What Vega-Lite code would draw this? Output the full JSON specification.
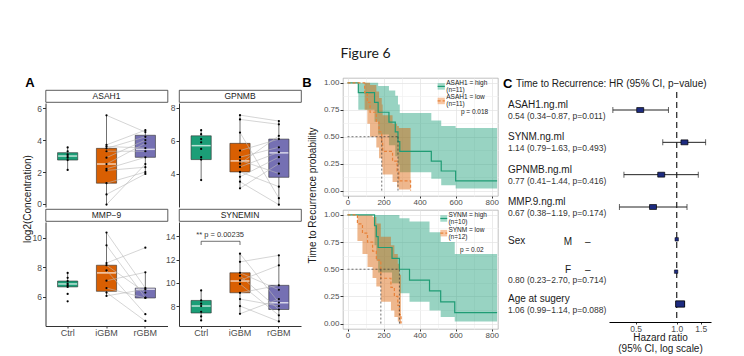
{
"$schema":"https://vega.github.io/schema/vega-lite/v6.json",
"padding":{"left":20,"top":46,"right":5,"bottom":0},
"title":{"text":"Figure 6","font":"Lato","fontSize":14,"fontWeight":"normal","color":"#1a1a1a","anchor":"middle","offset":16},
"config":{
 "view":{"stroke":null},
 "font":"Liberation Sans",
 "axis":{"labelColor":"#4d4d4d","tickColor":"#333333","domainColor":"#333333","labelFontSize":8.5,"tickSize":3,"labelPadding":1,"grid":false,"titleFontWeight":"normal","titleColor":"#1a1a1a","titleFontSize":10,"labelOverlap":false},
 "text":{"color":"#1a1a1a"}
},
"datasets":{
 "one":[{"k":1}],
 "boxes":[
  {"p":"ASAH1","g":"Ctrl","lo":2.13,"q1":2.75,"med":3.0,"q3":3.21,"hi":3.54},
  {"p":"ASAH1","g":"iGBM","lo":-0.04,"q1":1.3,"med":2.5,"q3":3.48,"hi":5.55},
  {"p":"ASAH1","g":"rGBM","lo":1.88,"q1":2.92,"med":3.42,"q3":4.3,"hi":4.62},
  {"p":"GPNMB","g":"Ctrl","lo":3.6,"q1":4.85,"med":5.7,"q3":6.3,"hi":6.64},
  {"p":"GPNMB","g":"iGBM","lo":3.1,"q1":4.1,"med":4.77,"q3":5.84,"hi":7.56},
  {"p":"GPNMB","g":"rGBM","lo":2.1,"q1":3.77,"med":5.26,"q3":6.1,"hi":7.2},
  {"p":"MMP-9","g":"Ctrl","lo":6.68,"q1":6.68,"med":6.88,"q3":7.08,"hi":7.63},
  {"p":"MMP-9","g":"iGBM","lo":6.07,"q1":6.38,"med":7.63,"q3":8.15,"hi":10.36},
  {"p":"MMP-9","g":"rGBM","lo":5.93,"q1":5.93,"med":6.52,"q3":6.6,"hi":7.67},
  {"p":"SYNEMIN","g":"Ctrl","lo":6.76,"q1":7.4,"med":8.0,"q3":8.48,"hi":9.34},
  {"p":"SYNEMIN","g":"iGBM","lo":7.33,"q1":9.14,"med":10.15,"q3":10.86,"hi":12.5},
  {"p":"SYNEMIN","g":"rGBM","lo":6.67,"q1":7.7,"med":8.28,"q3":9.78,"hi":12.36}
 ],
 "pts":[
  {"p":"ASAH1","g":"Ctrl","id":0,"v":3.54},{"p":"ASAH1","g":"Ctrl","id":0,"v":3.3},{"p":"ASAH1","g":"Ctrl","id":0,"v":3.1},{"p":"ASAH1","g":"Ctrl","id":0,"v":3.0},{"p":"ASAH1","g":"Ctrl","id":0,"v":2.9},{"p":"ASAH1","g":"Ctrl","id":0,"v":2.75},{"p":"ASAH1","g":"Ctrl","id":0,"v":2.13},
  {"p":"ASAH1","g":"iGBM","id":1,"v":5.55},{"p":"ASAH1","g":"rGBM","id":1,"v":4.5},
  {"p":"ASAH1","g":"iGBM","id":2,"v":3.7},{"p":"ASAH1","g":"rGBM","id":2,"v":4.62},
  {"p":"ASAH1","g":"iGBM","id":3,"v":3.6},{"p":"ASAH1","g":"rGBM","id":3,"v":3.5},
  {"p":"ASAH1","g":"iGBM","id":4,"v":3.48},{"p":"ASAH1","g":"rGBM","id":4,"v":4.2},
  {"p":"ASAH1","g":"iGBM","id":5,"v":3.3},{"p":"ASAH1","g":"rGBM","id":5,"v":3.3},
  {"p":"ASAH1","g":"iGBM","id":6,"v":2.9},{"p":"ASAH1","g":"rGBM","id":6,"v":4.0},
  {"p":"ASAH1","g":"iGBM","id":7,"v":2.5},{"p":"ASAH1","g":"rGBM","id":7,"v":3.8},
  {"p":"ASAH1","g":"iGBM","id":8,"v":2.2},{"p":"ASAH1","g":"rGBM","id":8,"v":2.92},
  {"p":"ASAH1","g":"iGBM","id":9,"v":2.1},{"p":"ASAH1","g":"rGBM","id":9,"v":2.3},
  {"p":"ASAH1","g":"iGBM","id":10,"v":1.3},{"p":"ASAH1","g":"rGBM","id":10,"v":2.0},
  {"p":"ASAH1","g":"iGBM","id":11,"v":0.6},{"p":"ASAH1","g":"rGBM","id":11,"v":1.88},
  {"p":"ASAH1","g":"iGBM","id":12,"v":-0.04},{"p":"ASAH1","g":"rGBM","id":12,"v":2.5},
  {"p":"GPNMB","g":"Ctrl","id":0,"v":6.64},{"p":"GPNMB","g":"Ctrl","id":0,"v":6.4},{"p":"GPNMB","g":"Ctrl","id":0,"v":6.1},{"p":"GPNMB","g":"Ctrl","id":0,"v":5.9},{"p":"GPNMB","g":"Ctrl","id":0,"v":5.5},{"p":"GPNMB","g":"Ctrl","id":0,"v":5.0},{"p":"GPNMB","g":"Ctrl","id":0,"v":4.85},{"p":"GPNMB","g":"Ctrl","id":0,"v":3.6},
  {"p":"GPNMB","g":"iGBM","id":1,"v":7.56},{"p":"GPNMB","g":"rGBM","id":1,"v":7.2},
  {"p":"GPNMB","g":"iGBM","id":2,"v":7.3},{"p":"GPNMB","g":"rGBM","id":2,"v":7.0},
  {"p":"GPNMB","g":"iGBM","id":3,"v":6.5},{"p":"GPNMB","g":"rGBM","id":3,"v":2.5},
  {"p":"GPNMB","g":"iGBM","id":4,"v":5.4},{"p":"GPNMB","g":"rGBM","id":4,"v":6.1},
  {"p":"GPNMB","g":"iGBM","id":5,"v":5.0},{"p":"GPNMB","g":"rGBM","id":5,"v":5.6},
  {"p":"GPNMB","g":"iGBM","id":6,"v":4.8},{"p":"GPNMB","g":"rGBM","id":6,"v":4.0},
  {"p":"GPNMB","g":"iGBM","id":7,"v":4.6},{"p":"GPNMB","g":"rGBM","id":7,"v":6.3},
  {"p":"GPNMB","g":"iGBM","id":8,"v":4.4},{"p":"GPNMB","g":"rGBM","id":8,"v":5.3},
  {"p":"GPNMB","g":"iGBM","id":9,"v":4.1},{"p":"GPNMB","g":"rGBM","id":9,"v":3.2},
  {"p":"GPNMB","g":"iGBM","id":10,"v":3.8},{"p":"GPNMB","g":"rGBM","id":10,"v":5.0},
  {"p":"GPNMB","g":"iGBM","id":11,"v":3.5},{"p":"GPNMB","g":"rGBM","id":11,"v":2.1},
  {"p":"GPNMB","g":"iGBM","id":12,"v":3.1},{"p":"GPNMB","g":"rGBM","id":12,"v":4.6},
  {"p":"MMP-9","g":"Ctrl","id":0,"v":7.63},{"p":"MMP-9","g":"Ctrl","id":0,"v":7.3},{"p":"MMP-9","g":"Ctrl","id":0,"v":7.08},{"p":"MMP-9","g":"Ctrl","id":0,"v":6.9},{"p":"MMP-9","g":"Ctrl","id":0,"v":6.8},{"p":"MMP-9","g":"Ctrl","id":0,"v":6.68},{"p":"MMP-9","g":"Ctrl","id":0,"v":6.2},{"p":"MMP-9","g":"Ctrl","id":0,"v":5.7},
  {"p":"MMP-9","g":"iGBM","id":1,"v":10.36},{"p":"MMP-9","g":"rGBM","id":1,"v":6.6},
  {"p":"MMP-9","g":"iGBM","id":2,"v":9.5},{"p":"MMP-9","g":"rGBM","id":2,"v":5.95},
  {"p":"MMP-9","g":"iGBM","id":3,"v":8.3},{"p":"MMP-9","g":"rGBM","id":3,"v":9.34},
  {"p":"MMP-9","g":"iGBM","id":4,"v":8.15},{"p":"MMP-9","g":"rGBM","id":4,"v":6.3},
  {"p":"MMP-9","g":"iGBM","id":5,"v":7.8},{"p":"MMP-9","g":"rGBM","id":5,"v":4.83},
  {"p":"MMP-9","g":"iGBM","id":6,"v":7.1},{"p":"MMP-9","g":"rGBM","id":6,"v":7.67},
  {"p":"MMP-9","g":"iGBM","id":7,"v":6.6},{"p":"MMP-9","g":"rGBM","id":7,"v":5.93},
  {"p":"MMP-9","g":"iGBM","id":8,"v":6.3},{"p":"MMP-9","g":"rGBM","id":8,"v":4.37},
  {"p":"MMP-9","g":"iGBM","id":9,"v":6.07},{"p":"MMP-9","g":"rGBM","id":9,"v":6.52},
  {"p":"SYNEMIN","g":"Ctrl","id":0,"v":9.34},{"p":"SYNEMIN","g":"Ctrl","id":0,"v":8.48},{"p":"SYNEMIN","g":"Ctrl","id":0,"v":8.2},{"p":"SYNEMIN","g":"Ctrl","id":0,"v":8.0},{"p":"SYNEMIN","g":"Ctrl","id":0,"v":7.5},{"p":"SYNEMIN","g":"Ctrl","id":0,"v":7.1},{"p":"SYNEMIN","g":"Ctrl","id":0,"v":6.76},
  {"p":"SYNEMIN","g":"iGBM","id":1,"v":12.5},{"p":"SYNEMIN","g":"rGBM","id":1,"v":8.3},
  {"p":"SYNEMIN","g":"iGBM","id":2,"v":11.8},{"p":"SYNEMIN","g":"rGBM","id":2,"v":12.36},
  {"p":"SYNEMIN","g":"iGBM","id":3,"v":10.86},{"p":"SYNEMIN","g":"rGBM","id":3,"v":9.4},
  {"p":"SYNEMIN","g":"iGBM","id":4,"v":10.6},{"p":"SYNEMIN","g":"rGBM","id":4,"v":7.7},
  {"p":"SYNEMIN","g":"iGBM","id":5,"v":10.2},{"p":"SYNEMIN","g":"rGBM","id":5,"v":11.5},
  {"p":"SYNEMIN","g":"iGBM","id":6,"v":9.9},{"p":"SYNEMIN","g":"rGBM","id":6,"v":7.2},
  {"p":"SYNEMIN","g":"iGBM","id":7,"v":9.14},{"p":"SYNEMIN","g":"rGBM","id":7,"v":9.78},
  {"p":"SYNEMIN","g":"iGBM","id":8,"v":8.6},{"p":"SYNEMIN","g":"rGBM","id":8,"v":8.0},
  {"p":"SYNEMIN","g":"iGBM","id":9,"v":8.0},{"p":"SYNEMIN","g":"rGBM","id":9,"v":6.67},
  {"p":"SYNEMIN","g":"iGBM","id":10,"v":7.33},{"p":"SYNEMIN","g":"rGBM","id":10,"v":8.6}
 ],
 "kmline":[
  {"p":"ASAH1","g":"high","t":0,"s":1},{"p":"ASAH1","g":"high","t":60,"s":0.909},{"p":"ASAH1","g":"high","t":150,"s":0.818},{"p":"ASAH1","g":"high","t":170,"s":0.727},{"p":"ASAH1","g":"high","t":230,"s":0.636},{"p":"ASAH1","g":"high","t":265,"s":0.545},{"p":"ASAH1","g":"high","t":280,"s":0.455},{"p":"ASAH1","g":"high","t":290,"s":0.364},{"p":"ASAH1","g":"high","t":465,"s":0.273},{"p":"ASAH1","g":"high","t":520,"s":0.182},{"p":"ASAH1","g":"high","t":600,"s":0.091},{"p":"ASAH1","g":"high","t":830,"s":0.091},
  {"p":"ASAH1","g":"low","t":0,"s":1},{"p":"ASAH1","g":"low","t":95,"s":0.909},{"p":"ASAH1","g":"low","t":110,"s":0.818},{"p":"ASAH1","g":"low","t":125,"s":0.727},{"p":"ASAH1","g":"low","t":160,"s":0.636},{"p":"ASAH1","g":"low","t":175,"s":0.545},{"p":"ASAH1","g":"low","t":190,"s":0.455},{"p":"ASAH1","g":"low","t":195,"s":0.364},{"p":"ASAH1","g":"low","t":250,"s":0.273},{"p":"ASAH1","g":"low","t":275,"s":0.182},{"p":"ASAH1","g":"low","t":285,"s":0.091},{"p":"ASAH1","g":"low","t":350,"s":0},
  {"p":"SYNM","g":"high","t":0,"s":1},{"p":"SYNM","g":"high","t":150,"s":0.9},{"p":"SYNM","g":"high","t":160,"s":0.8},{"p":"SYNM","g":"high","t":170,"s":0.7},{"p":"SYNM","g":"high","t":247,"s":0.6},{"p":"SYNM","g":"high","t":288,"s":0.5},{"p":"SYNM","g":"high","t":344,"s":0.4},{"p":"SYNM","g":"high","t":455,"s":0.3},{"p":"SYNM","g":"high","t":517,"s":0.2},{"p":"SYNM","g":"high","t":595,"s":0.1},{"p":"SYNM","g":"high","t":830,"s":0.1},
  {"p":"SYNM","g":"low","t":0,"s":1},{"p":"SYNM","g":"low","t":55,"s":0.917},{"p":"SYNM","g":"low","t":83,"s":0.833},{"p":"SYNM","g":"low","t":111,"s":0.75},{"p":"SYNM","g":"low","t":139,"s":0.667},{"p":"SYNM","g":"low","t":160,"s":0.583},{"p":"SYNM","g":"low","t":185,"s":0.417},{"p":"SYNM","g":"low","t":241,"s":0.333},{"p":"SYNM","g":"low","t":260,"s":0.25},{"p":"SYNM","g":"low","t":279,"s":0.167},{"p":"SYNM","g":"low","t":288,"s":0.083},{"p":"SYNM","g":"low","t":297,"s":0}
 ],
 "kmband":[
  {"p":"ASAH1","g":"high","t":0,"lo":1,"hi":1},{"p":"ASAH1","g":"high","t":60,"lo":0.75,"hi":1},{"p":"ASAH1","g":"high","t":150,"lo":0.64,"hi":1},{"p":"ASAH1","g":"high","t":170,"lo":0.52,"hi":0.97},{"p":"ASAH1","g":"high","t":230,"lo":0.42,"hi":0.93},{"p":"ASAH1","g":"high","t":265,"lo":0.32,"hi":0.88},{"p":"ASAH1","g":"high","t":280,"lo":0.24,"hi":0.8},{"p":"ASAH1","g":"high","t":290,"lo":0.17,"hi":0.72},{"p":"ASAH1","g":"high","t":465,"lo":0.11,"hi":0.65},{"p":"ASAH1","g":"high","t":520,"lo":0.05,"hi":0.6},{"p":"ASAH1","g":"high","t":600,"lo":0.02,"hi":0.58},{"p":"ASAH1","g":"high","t":830,"lo":0.02,"hi":0.58},
  {"p":"ASAH1","g":"low","t":0,"lo":1,"hi":1},{"p":"ASAH1","g":"low","t":95,"lo":0.75,"hi":1},{"p":"ASAH1","g":"low","t":110,"lo":0.62,"hi":1},{"p":"ASAH1","g":"low","t":125,"lo":0.5,"hi":0.98},{"p":"ASAH1","g":"low","t":160,"lo":0.4,"hi":0.92},{"p":"ASAH1","g":"low","t":175,"lo":0.3,"hi":0.86},{"p":"ASAH1","g":"low","t":190,"lo":0.22,"hi":0.8},{"p":"ASAH1","g":"low","t":195,"lo":0.15,"hi":0.7},{"p":"ASAH1","g":"low","t":250,"lo":0.08,"hi":0.62},{"p":"ASAH1","g":"low","t":275,"lo":0.03,"hi":0.6},{"p":"ASAH1","g":"low","t":285,"lo":0.01,"hi":0.58},{"p":"ASAH1","g":"low","t":350,"lo":0,"hi":0.58},
  {"p":"SYNM","g":"high","t":0,"lo":1,"hi":1},{"p":"SYNM","g":"high","t":150,"lo":0.72,"hi":1},{"p":"SYNM","g":"high","t":160,"lo":0.58,"hi":1},{"p":"SYNM","g":"high","t":170,"lo":0.47,"hi":1},{"p":"SYNM","g":"high","t":247,"lo":0.37,"hi":1},{"p":"SYNM","g":"high","t":288,"lo":0.28,"hi":0.97},{"p":"SYNM","g":"high","t":344,"lo":0.2,"hi":0.94},{"p":"SYNM","g":"high","t":455,"lo":0.12,"hi":0.84},{"p":"SYNM","g":"high","t":517,"lo":0.06,"hi":0.75},{"p":"SYNM","g":"high","t":595,"lo":0.02,"hi":0.64},{"p":"SYNM","g":"high","t":830,"lo":0.02,"hi":0.64},
  {"p":"SYNM","g":"low","t":0,"lo":1,"hi":1},{"p":"SYNM","g":"low","t":55,"lo":0.76,"hi":1},{"p":"SYNM","g":"low","t":83,"lo":0.64,"hi":1},{"p":"SYNM","g":"low","t":111,"lo":0.52,"hi":1},{"p":"SYNM","g":"low","t":139,"lo":0.42,"hi":0.98},{"p":"SYNM","g":"low","t":160,"lo":0.34,"hi":0.92},{"p":"SYNM","g":"low","t":185,"lo":0.2,"hi":0.8},{"p":"SYNM","g":"low","t":241,"lo":0.12,"hi":0.72},{"p":"SYNM","g":"low","t":260,"lo":0.06,"hi":0.64},{"p":"SYNM","g":"low","t":279,"lo":0.02,"hi":0.55},{"p":"SYNM","g":"low","t":288,"lo":0,"hi":0.45},{"p":"SYNM","g":"low","t":297,"lo":0,"hi":0.45}
 ],
 "forest":[
  {"var":"ASAH1","name":"ASAH1.ng.ml","lev":"","hr":0.54,"lo":0.34,"hi":0.87,"txt":"0.54 (0.34−0.87, p=0.011)"},
  {"var":"SYNM","name":"SYNM.ng.ml","lev":"","hr":1.14,"lo":0.79,"hi":1.63,"txt":"1.14 (0.79−1.63, p=0.493)"},
  {"var":"GPNMB","name":"GPNMB.ng.ml","lev":"","hr":0.77,"lo":0.41,"hi":1.44,"txt":"0.77 (0.41−1.44, p=0.416)"},
  {"var":"MMP9","name":"MMP.9.ng.ml","lev":"","hr":0.67,"lo":0.38,"hi":1.19,"txt":"0.67 (0.38−1.19, p=0.174)"},
  {"var":"SexM","name":"Sex","lev":"M","hr":1.0,"txt":""},
  {"var":"SexF","name":"","lev":"F","hr":0.99,"txt":"0.80 (0.23−2.70, p=0.714)"},
  {"var":"Age","name":"Age at sugery","lev":"","hr":1.06,"lo":0.99,"hi":1.14,"txt":"1.06 (0.99−1.14, p=0.088)"}
 ]
},
"hconcat":[
 {"hconcat":[
  {"vconcat":[
   {"width":279,"height":12,"data":{"name":"one"},"mark":{"type":"text","align":"center","baseline":"bottom","fontSize":13,"fontWeight":"bold","color":"#000000"},"encoding":{"x":{"datum":0.036,"type":"quantitative","scale":{"domain":[0,1]},"axis":null},"y":{"datum":0,"type":"quantitative","scale":{"domain":[0,1]},"axis":null},"text":{"value":"A"}}},
   {"hconcat":[
    {"width":15,"height":235,"data":{"name":"one"},"mark":{"type":"text","angle":270,"align":"center","baseline":"middle","fontSize":10},"encoding":{"x":{"datum":0.55,"type":"quantitative","scale":{"domain":[0,1]},"axis":null},"y":{"datum":0.536,"type":"quantitative","scale":{"domain":[0,1]},"axis":null},"text":{"value":"log2(Concentration)"}}},
    {"concat":[
     {"vconcat":[
      {"width":122,"height":12,"view":{"stroke":"#333333","strokeWidth":0.8,"fill":"#ffffff"},"data":{"name":"one"},"mark":{"type":"text","fontSize":8.5,"baseline":"middle"},"encoding":{"text":{"value":"ASAH1"}}},
      {"width":122,"height":104,
       "encoding":{"x":{"field":"g","type":"nominal","scale":{"domain":["Ctrl","iGBM","rGBM"],"paddingInner":0,"paddingOuter":0.07},"axis":null}},
       "layer":[
        {"data":{"name":"boxes"},"transform":[{"filter":"datum.p === 'ASAH1'"}],"mark":{"type":"rule","color":"#333333","strokeWidth":0.7},"encoding":{"y":{"field":"lo","type":"quantitative","title":null,"scale":{"domain":[-0.19,6.32],"nice":false,"zero":false},"axis":{"values":[0,2,4,6],"tickCount":20,"format":"d","labelOverlap":false,"title":null,"labelExpr":"datum.value < 10 ? '\u2007' + datum.label : datum.label"}},"y2":{"field":"hi"}}},
        {"data":{"name":"boxes"},"transform":[{"filter":"datum.p === 'ASAH1'"}],"mark":{"type":"bar","width":{"band":0.52},"stroke":"#333333","strokeWidth":0.6},"encoding":{"y":{"field":"q1","type":"quantitative","title":null},"y2":{"field":"q3"},"fill":{"field":"g","type":"nominal","scale":{"domain":["Ctrl","iGBM","rGBM"],"range":["#1b9e77","#d95f02","#7570b3"]},"legend":null}}},
        {"data":{"name":"boxes"},"transform":[{"filter":"datum.p === 'ASAH1'"}],"mark":{"type":"tick","color":"#ffffff","thickness":1.5,"size":19},"encoding":{"y":{"field":"med","type":"quantitative","title":null}}},
        {"data":{"name":"pts"},"transform":[{"filter":"datum.p === 'ASAH1' && datum.g !== 'Ctrl'"}],"mark":{"type":"line","color":"#b8b8b8","strokeWidth":0.6},"encoding":{"y":{"field":"v","type":"quantitative","title":null},"detail":{"field":"id","type":"nominal"}}},
        {"data":{"name":"pts"},"transform":[{"filter":"datum.p === 'ASAH1'"}],"mark":{"type":"point","filled":true,"color":"#000000","size":5,"opacity":1},"encoding":{"y":{"field":"v","type":"quantitative","title":null}}}
       ]}
     ],"spacing":0},
     {"vconcat":[
      {"width":122,"height":12,"view":{"stroke":"#333333","strokeWidth":0.8,"fill":"#ffffff"},"data":{"name":"one"},"mark":{"type":"text","fontSize":8.5,"baseline":"middle"},"encoding":{"text":{"value":"GPNMB"}}},
      {"width":122,"height":104,
       "encoding":{"x":{"field":"g","type":"nominal","scale":{"domain":["Ctrl","iGBM","rGBM"],"paddingInner":0,"paddingOuter":0.07},"axis":null}},
       "layer":[
        {"data":{"name":"boxes"},"transform":[{"filter":"datum.p === 'GPNMB'"}],"mark":{"type":"rule","color":"#333333","strokeWidth":0.7},"encoding":{"y":{"field":"lo","type":"quantitative","title":null,"scale":{"domain":[1.96,8.3],"nice":false,"zero":false},"axis":{"values":[4,6,8],"tickCount":20,"format":"d","labelOverlap":false,"title":null,"labelExpr":"datum.value < 10 ? '\u2007' + datum.label : datum.label"}},"y2":{"field":"hi"}}},
        {"data":{"name":"boxes"},"transform":[{"filter":"datum.p === 'GPNMB'"}],"mark":{"type":"bar","width":{"band":0.52},"stroke":"#333333","strokeWidth":0.6},"encoding":{"y":{"field":"q1","type":"quantitative","title":null},"y2":{"field":"q3"},"fill":{"field":"g","type":"nominal","scale":{"domain":["Ctrl","iGBM","rGBM"],"range":["#1b9e77","#d95f02","#7570b3"]},"legend":null}}},
        {"data":{"name":"boxes"},"transform":[{"filter":"datum.p === 'GPNMB'"}],"mark":{"type":"tick","color":"#ffffff","thickness":1.5,"size":19},"encoding":{"y":{"field":"med","type":"quantitative","title":null}}},
        {"data":{"name":"pts"},"transform":[{"filter":"datum.p === 'GPNMB' && datum.g !== 'Ctrl'"}],"mark":{"type":"line","color":"#b8b8b8","strokeWidth":0.6},"encoding":{"y":{"field":"v","type":"quantitative","title":null},"detail":{"field":"id","type":"nominal"}}},
        {"data":{"name":"pts"},"transform":[{"filter":"datum.p === 'GPNMB'"}],"mark":{"type":"point","filled":true,"color":"#000000","size":5,"opacity":1},"encoding":{"y":{"field":"v","type":"quantitative","title":null}}}
       ]}
     ],"spacing":0},
     {"vconcat":[
      {"width":122,"height":12,"view":{"stroke":"#333333","strokeWidth":0.8,"fill":"#ffffff"},"data":{"name":"one"},"mark":{"type":"text","fontSize":8.5,"baseline":"middle"},"encoding":{"text":{"value":"MMP−9"}}},
      {"width":122,"height":104,
       "encoding":{"x":{"field":"g","type":"nominal","scale":{"domain":["Ctrl","iGBM","rGBM"],"paddingInner":0,"paddingOuter":0.07},"axis":{"title":null,"labelFontSize":9,"labelAngle":0,"tickSize":2,"labelPadding":0}}},
       "layer":[
        {"data":{"name":"boxes"},"transform":[{"filter":"datum.p === 'MMP-9'"}],"mark":{"type":"rule","color":"#333333","strokeWidth":0.7},"encoding":{"y":{"field":"lo","type":"quantitative","title":null,"scale":{"domain":[4.03,11.08],"nice":false,"zero":false},"axis":{"values":[6,8,10],"tickCount":20,"format":"d","labelOverlap":false,"title":null,"labelExpr":"datum.value < 10 ? '\u2007' + datum.label : datum.label"}},"y2":{"field":"hi"}}},
        {"data":{"name":"boxes"},"transform":[{"filter":"datum.p === 'MMP-9'"}],"mark":{"type":"bar","width":{"band":0.52},"stroke":"#333333","strokeWidth":0.6},"encoding":{"y":{"field":"q1","type":"quantitative","title":null},"y2":{"field":"q3"},"fill":{"field":"g","type":"nominal","scale":{"domain":["Ctrl","iGBM","rGBM"],"range":["#1b9e77","#d95f02","#7570b3"]},"legend":null}}},
        {"data":{"name":"boxes"},"transform":[{"filter":"datum.p === 'MMP-9'"}],"mark":{"type":"tick","color":"#ffffff","thickness":1.5,"size":19},"encoding":{"y":{"field":"med","type":"quantitative","title":null}}},
        {"data":{"name":"pts"},"transform":[{"filter":"datum.p === 'MMP-9' && datum.g !== 'Ctrl'"}],"mark":{"type":"line","color":"#b8b8b8","strokeWidth":0.6},"encoding":{"y":{"field":"v","type":"quantitative","title":null},"detail":{"field":"id","type":"nominal"}}},
        {"data":{"name":"pts"},"transform":[{"filter":"datum.p === 'MMP-9'"}],"mark":{"type":"point","filled":true,"color":"#000000","size":5,"opacity":1},"encoding":{"y":{"field":"v","type":"quantitative","title":null}}}
       ]}
     ],"spacing":0},
     {"vconcat":[
      {"width":122,"height":12,"view":{"stroke":"#333333","strokeWidth":0.8,"fill":"#ffffff"},"data":{"name":"one"},"mark":{"type":"text","fontSize":8.5,"baseline":"middle"},"encoding":{"text":{"value":"SYNEMIN"}}},
      {"width":122,"height":104,
       "encoding":{"x":{"field":"g","type":"nominal","scale":{"domain":["Ctrl","iGBM","rGBM"],"paddingInner":0,"paddingOuter":0.07},"axis":{"title":null,"labelFontSize":9,"labelAngle":0,"tickSize":2,"labelPadding":0}}},
       "layer":[
        {"data":{"name":"boxes"},"transform":[{"filter":"datum.p === 'SYNEMIN'"}],"mark":{"type":"rule","color":"#333333","strokeWidth":0.7},"encoding":{"y":{"field":"lo","type":"quantitative","title":null,"scale":{"domain":[6.28,15.23],"nice":false,"zero":false},"axis":{"values":[8,10,12,14],"tickCount":20,"format":"d","labelOverlap":false,"title":null,"labelExpr":"datum.value < 10 ? '\u2007' + datum.label : datum.label"}},"y2":{"field":"hi"}}},
        {"data":{"name":"boxes"},"transform":[{"filter":"datum.p === 'SYNEMIN'"}],"mark":{"type":"bar","width":{"band":0.52},"stroke":"#333333","strokeWidth":0.6},"encoding":{"y":{"field":"q1","type":"quantitative","title":null},"y2":{"field":"q3"},"fill":{"field":"g","type":"nominal","scale":{"domain":["Ctrl","iGBM","rGBM"],"range":["#1b9e77","#d95f02","#7570b3"]},"legend":null}}},
        {"data":{"name":"boxes"},"transform":[{"filter":"datum.p === 'SYNEMIN'"}],"mark":{"type":"tick","color":"#ffffff","thickness":1.5,"size":19},"encoding":{"y":{"field":"med","type":"quantitative","title":null}}},
        {"data":{"name":"pts"},"transform":[{"filter":"datum.p === 'SYNEMIN' && datum.g !== 'Ctrl'"}],"mark":{"type":"line","color":"#b8b8b8","strokeWidth":0.6},"encoding":{"y":{"field":"v","type":"quantitative","title":null},"detail":{"field":"id","type":"nominal"}}},
        {"data":{"name":"pts"},"transform":[{"filter":"datum.p === 'SYNEMIN'"}],"mark":{"type":"point","filled":true,"color":"#000000","size":5,"opacity":1},"encoding":{"y":{"field":"v","type":"quantitative","title":null}}},
        {"data":{"name":"one"},"mark":{"type":"rule","color":"#333333","strokeWidth":0.7},"encoding":{"x":{"datum":"Ctrl"},"x2":{"datum":"iGBM"},"y":{"datum":13.57}}},
        {"data":{"name":"one"},"mark":{"type":"rule","color":"#333333","strokeWidth":0.7},"encoding":{"x":{"datum":"Ctrl"},"y":{"datum":13.25},"y2":{"datum":13.57}}},
        {"data":{"name":"one"},"mark":{"type":"rule","color":"#333333","strokeWidth":0.7},"encoding":{"x":{"datum":"iGBM"},"y":{"datum":13.25},"y2":{"datum":13.57}}},
        {"data":{"name":"one"},"mark":{"type":"text","fontSize":7.5,"dx":19,"baseline":"middle","align":"center","color":"#333333"},"encoding":{"x":{"datum":"Ctrl"},"y":{"datum":14.12},"text":{"value":"** p = 0.00235"}}}
       ]}
     ],"spacing":0}
    ],"columns":2,"align":"each","spacing":{"row":-3,"column":-3.5}}
   ],"spacing":-3.5}
  ],"spacing":-3},
  {"hconcat":[
   {"width":21,"height":250,"data":{"name":"one"},"layer":[
    {"mark":{"type":"text","align":"center","baseline":"alphabetic","fontSize":13,"fontWeight":"bold","color":"#000000"},"encoding":{"x":{"datum":0.24,"type":"quantitative","scale":{"domain":[0,1]},"axis":null},"y":{"datum":0.965,"type":"quantitative","scale":{"domain":[0,1]},"axis":null},"text":{"value":"B"}}},
    {"mark":{"type":"text","angle":270,"align":"center","baseline":"middle","fontSize":10},"encoding":{"x":{"datum":0.52,"type":"quantitative"},"y":{"datum":0.53,"type":"quantitative"},"text":{"value":"Time to Recurrence probability"}}}
   ]},
   {"vconcat":[
    {"width":155,"height":118,"view":{"stroke":"#a6a6a6","strokeWidth":0.7},
     "layer":[
      {"data":{"name":"kmband"},"transform":[{"filter":"datum.p === 'ASAH1'"}],"mark":{"type":"area","interpolate":"step-after","opacity":0.45},
       "encoding":{
        "x":{"field":"t","type":"quantitative","title":null,"scale":{"domain":[-25,835],"nice":false,"zero":false},"axis":{"title":null,"values":[0,100,200,300,400,500,600,700,800],"tickCount":50,"labelExpr":"datum.value % 200 === 0 ? datum.label : ''","tickOpacity":{"condition":{"test":"datum.value % 200 === 0","value":1},"value":0},"grid":true,"gridColor":{"condition":{"test":"datum.value % 200 === 0","value":"#e3e3e3"},"value":"#f1f1f1"},"gridWidth":0.7,"domain":false,"tickSize":2,"labelPadding":0,"labelFontSize":8,"labelOverlap":false,"labelFlush":false}},
        "y":{"field":"lo","type":"quantitative","title":null,"stack":null,"scale":{"domain":[-0.05,1.045],"nice":false,"zero":false},"axis":{"title":null,"values":[0,0.125,0.25,0.375,0.5,0.625,0.75,0.875,1],"tickCount":50,"format":".2f","labelExpr":"(datum.value * 4) % 1 === 0 ? datum.label : ''","tickOpacity":{"condition":{"test":"(datum.value * 4) % 1 === 0","value":1},"value":0},"grid":true,"gridColor":{"condition":{"test":"(datum.value * 4) % 1 === 0","value":"#e3e3e3"},"value":"#f1f1f1"},"gridWidth":0.7,"domain":false,"tickSize":3,"labelPadding":1,"labelFontSize":8,"labelOverlap":false,"labelFlush":false}},
        "y2":{"field":"hi"},
        "fill":{"field":"g","type":"nominal","scale":{"domain":["high","low"],"range":["#36b08a","#f28c44"]},"legend":null}}},
      {"data":{"name":"kmline"},"transform":[{"filter":"datum.p === 'ASAH1'"}],"mark":{"type":"line","interpolate":"step-after","strokeWidth":1.2},
       "encoding":{"x":{"field":"t","type":"quantitative","title":null},"y":{"field":"s","type":"quantitative","title":null},
        "stroke":{"field":"g","type":"nominal","scale":{"domain":["high","low"],"range":["#1f9c74","#e8823a"]},"legend":null},
        "strokeDash":{"field":"g","type":"nominal","scale":{"domain":["high","low"],"range":[[1,0],[3,2]]},"legend":null}}},
      {"data":{"name":"one"},"mark":{"type":"rule","strokeDash":[2,2],"color":"#333333","strokeWidth":0.7},"encoding":{"x":{"datum":0},"x2":{"datum":280},"y":{"datum":0.5}}},
      {"data":{"name":"one"},"mark":{"type":"rule","strokeDash":[2,2],"color":"#333333","strokeWidth":0.7},"encoding":{"x":{"datum":190},"y":{"datum":0},"y2":{"datum":0.5}}},
      {"data":{"name":"one"},"mark":{"type":"rule","strokeDash":[2,2],"color":"#333333","strokeWidth":0.7},"encoding":{"x":{"datum":280},"y":{"datum":0},"y2":{"datum":0.5}}},
      {"data":{"name":"one"},"mark":{"type":"rect","color":"#36b08a","opacity":0.45},"encoding":{"x":{"datum":500},"x2":{"datum":540},"y":{"datum":0.937},"y2":{"datum":0.997}}},
      {"data":{"name":"one"},"mark":{"type":"rule","color":"#1f9c74","strokeWidth":1.2},"encoding":{"x":{"datum":500},"x2":{"datum":540},"y":{"datum":0.967}}},
      {"data":{"name":"one"},"mark":{"type":"rect","color":"#f28c44","opacity":0.5},"encoding":{"x":{"datum":500},"x2":{"datum":540},"y":{"datum":0.802},"y2":{"datum":0.862}}},
      {"data":{"name":"one"},"mark":{"type":"rule","color":"#e8823a","strokeWidth":1.2,"strokeDash":[3,2]},"encoding":{"x":{"datum":500},"x2":{"datum":540},"y":{"datum":0.832}}},
      {"data":{"name":"one"},"mark":{"type":"text","align":"left","baseline":"middle","fontSize":6.5},"encoding":{"x":{"datum":548},"y":{"datum":1.0},"text":{"value":"ASAH1 = high"}}},
      {"data":{"name":"one"},"mark":{"type":"text","align":"left","baseline":"middle","fontSize":6.5},"encoding":{"x":{"datum":548},"y":{"datum":0.935},"text":{"value":"(n=11)"}}},
      {"data":{"name":"one"},"mark":{"type":"text","align":"left","baseline":"middle","fontSize":6.5},"encoding":{"x":{"datum":548},"y":{"datum":0.865},"text":{"value":"ASAH1 = low"}}},
      {"data":{"name":"one"},"mark":{"type":"text","align":"left","baseline":"middle","fontSize":6.5},"encoding":{"x":{"datum":548},"y":{"datum":0.8},"text":{"value":"(n=11)"}}},
      {"data":{"name":"one"},"mark":{"type":"text","align":"center","baseline":"middle","fontSize":6.5},"encoding":{"x":{"datum":705},"y":{"datum":0.73},"text":{"value":"p = 0.018"}}}
     ]},
    {"width":155,"height":119,"view":{"stroke":"#a6a6a6","strokeWidth":0.7},
     "layer":[
      {"data":{"name":"kmband"},"transform":[{"filter":"datum.p === 'SYNM'"}],"mark":{"type":"area","interpolate":"step-after","opacity":0.45},
       "encoding":{
        "x":{"field":"t","type":"quantitative","title":null,"scale":{"domain":[-25,835],"nice":false,"zero":false},"axis":{"title":"Time to Recurrence (Days)","titleFontSize":11,"titlePadding":1,"values":[0,100,200,300,400,500,600,700,800],"tickCount":50,"labelExpr":"datum.value % 200 === 0 ? datum.label : ''","tickOpacity":{"condition":{"test":"datum.value % 200 === 0","value":1},"value":0},"grid":true,"gridColor":{"condition":{"test":"datum.value % 200 === 0","value":"#e3e3e3"},"value":"#f1f1f1"},"gridWidth":0.7,"domain":false,"tickSize":2,"labelPadding":0,"labelFontSize":8,"labelOverlap":false,"labelFlush":false}},
        "y":{"field":"lo","type":"quantitative","title":null,"stack":null,"scale":{"domain":[-0.05,1.045],"nice":false,"zero":false},"axis":{"title":null,"values":[0,0.125,0.25,0.375,0.5,0.625,0.75,0.875,1],"tickCount":50,"format":".2f","labelExpr":"(datum.value * 4) % 1 === 0 ? datum.label : ''","tickOpacity":{"condition":{"test":"(datum.value * 4) % 1 === 0","value":1},"value":0},"grid":true,"gridColor":{"condition":{"test":"(datum.value * 4) % 1 === 0","value":"#e3e3e3"},"value":"#f1f1f1"},"gridWidth":0.7,"domain":false,"tickSize":3,"labelPadding":1,"labelFontSize":8,"labelOverlap":false,"labelFlush":false}},
        "y2":{"field":"hi"},
        "fill":{"field":"g","type":"nominal","scale":{"domain":["high","low"],"range":["#36b08a","#f28c44"]},"legend":null}}},
      {"data":{"name":"kmline"},"transform":[{"filter":"datum.p === 'SYNM'"}],"mark":{"type":"line","interpolate":"step-after","strokeWidth":1.2},
       "encoding":{"x":{"field":"t","type":"quantitative","title":null},"y":{"field":"s","type":"quantitative","title":null},
        "stroke":{"field":"g","type":"nominal","scale":{"domain":["high","low"],"range":["#1f9c74","#e8823a"]},"legend":null},
        "strokeDash":{"field":"g","type":"nominal","scale":{"domain":["high","low"],"range":[[1,0],[3,2]]},"legend":null}}},
      {"data":{"name":"one"},"mark":{"type":"rule","strokeDash":[2,2],"color":"#333333","strokeWidth":0.7},"encoding":{"x":{"datum":0},"x2":{"datum":288},"y":{"datum":0.5}}},
      {"data":{"name":"one"},"mark":{"type":"rule","strokeDash":[2,2],"color":"#333333","strokeWidth":0.7},"encoding":{"x":{"datum":185},"y":{"datum":0},"y2":{"datum":0.5}}},
      {"data":{"name":"one"},"mark":{"type":"rule","strokeDash":[2,2],"color":"#333333","strokeWidth":0.7},"encoding":{"x":{"datum":288},"y":{"datum":0},"y2":{"datum":0.5}}},
      {"data":{"name":"one"},"mark":{"type":"rect","color":"#36b08a","opacity":0.45},"encoding":{"x":{"datum":515},"x2":{"datum":553},"y":{"datum":0.937},"y2":{"datum":0.997}}},
      {"data":{"name":"one"},"mark":{"type":"rule","color":"#1f9c74","strokeWidth":1.2},"encoding":{"x":{"datum":515},"x2":{"datum":553},"y":{"datum":0.967}}},
      {"data":{"name":"one"},"mark":{"type":"rect","color":"#f28c44","opacity":0.5},"encoding":{"x":{"datum":515},"x2":{"datum":553},"y":{"datum":0.802},"y2":{"datum":0.862}}},
      {"data":{"name":"one"},"mark":{"type":"rule","color":"#e8823a","strokeWidth":1.2,"strokeDash":[3,2]},"encoding":{"x":{"datum":515},"x2":{"datum":553},"y":{"datum":0.832}}},
      {"data":{"name":"one"},"mark":{"type":"text","align":"left","baseline":"middle","fontSize":6.5},"encoding":{"x":{"datum":560},"y":{"datum":1.0},"text":{"value":"SYNM = high"}}},
      {"data":{"name":"one"},"mark":{"type":"text","align":"left","baseline":"middle","fontSize":6.5},"encoding":{"x":{"datum":560},"y":{"datum":0.935},"text":{"value":"(n=10)"}}},
      {"data":{"name":"one"},"mark":{"type":"text","align":"left","baseline":"middle","fontSize":6.5},"encoding":{"x":{"datum":560},"y":{"datum":0.865},"text":{"value":"SYNM = low"}}},
      {"data":{"name":"one"},"mark":{"type":"text","align":"left","baseline":"middle","fontSize":6.5},"encoding":{"x":{"datum":560},"y":{"datum":0.8},"text":{"value":"(n=12)"}}},
      {"data":{"name":"one"},"mark":{"type":"text","align":"center","baseline":"middle","fontSize":6.5},"encoding":{"x":{"datum":690},"y":{"datum":0.68},"text":{"value":"p = 0.02"}}}
     ]}
   ],"spacing":2}
  ],"spacing":0}
 ],"spacing":-3},
 {"vconcat":[
  {"width":208,"height":12,"data":{"name":"one"},"layer":[
   {"mark":{"type":"text","align":"left","baseline":"middle","fontSize":13,"fontWeight":"bold","color":"#000000"},"encoding":{"x":{"datum":0,"type":"quantitative","scale":{"domain":[0,1]},"axis":null},"y":{"datum":0.5,"type":"quantitative","scale":{"domain":[0,1]},"axis":null},"text":{"value":"C"}}},
   {"mark":{"type":"text","align":"left","baseline":"middle","fontSize":10},"encoding":{"x":{"datum":0.0625,"type":"quantitative"},"y":{"datum":0.5,"type":"quantitative"},"text":{"value":"Time to Recurrence: HR (95% CI, p−value)"}}}
  ]},
  {"hconcat":[
   {"width":106,"height":230,"data":{"name":"forest"},
    "encoding":{"y":{"field":"var","type":"nominal","scale":{"type":"point","domain":["ASAH1","SYNM","GPNMB","MMP9","SexM","SexF","Age"],"padding":0.557},"axis":null},"x":{"datum":0.047,"type":"quantitative","scale":{"domain":[0,1]},"axis":null}},
    "layer":[
     {"transform":[{"filter":"datum.name !== '' && datum.var !== 'SexM'"}],"mark":{"type":"text","align":"left","baseline":"middle","fontSize":10,"dy":-5},"encoding":{"text":{"field":"name"}}},
     {"transform":[{"filter":"datum.var === 'SexM'"}],"mark":{"type":"text","align":"left","baseline":"middle","fontSize":10,"dy":2},"encoding":{"text":{"field":"name"}}},
     {"transform":[{"filter":"datum.txt !== '' && datum.var !== 'SexF'"}],"mark":{"type":"text","align":"left","baseline":"middle","fontSize":8.5,"dy":6,"color":"#333333"},"encoding":{"text":{"field":"txt"}}},
     {"transform":[{"filter":"datum.var === 'SexF'"}],"mark":{"type":"text","align":"left","baseline":"middle","fontSize":8.5,"dy":8,"color":"#333333"},"encoding":{"text":{"field":"txt"}}},
     {"transform":[{"filter":"datum.var === 'SexM'"}],"mark":{"type":"text","align":"center","baseline":"middle","fontSize":10,"dy":3},"encoding":{"x":{"datum":0.613},"text":{"field":"lev"}}},
     {"transform":[{"filter":"datum.var === 'SexM'"}],"mark":{"type":"text","align":"center","baseline":"middle","fontSize":10,"dy":3},"encoding":{"x":{"datum":0.8},"text":{"value":"–"}}},
     {"transform":[{"filter":"datum.var === 'SexF'"}],"mark":{"type":"text","align":"center","baseline":"middle","fontSize":10,"dy":-2},"encoding":{"x":{"datum":0.613},"text":{"field":"lev"}}},
     {"transform":[{"filter":"datum.var === 'SexF'"}],"mark":{"type":"text","align":"center","baseline":"middle","fontSize":10,"dy":-2},"encoding":{"x":{"datum":0.8},"text":{"value":"–"}}}
    ]},
   {"width":102,"height":230,
    "layer":[
     {"data":{"name":"one"},"mark":{"type":"rule","strokeDash":[6,4],"strokeWidth":1.3,"color":"#333333"},"encoding":{"x":{"datum":1,"type":"quantitative","scale":{"type":"log","domain":[0.3186,1.785],"nice":false},"axis":{"values":[0.5,1,1.5],"tickCount":20,"format":".1f","title":["Hazard ratio","(95% CI, log scale)"],"titleFontSize":10,"titlePadding":0,"titleLineHeight":11,"labelFontSize":8.5,"tickSize":2,"labelPadding":0,"domainColor":"#000000","domainWidth":1,"labelFlush":false,"labelOverlap":false}}}},
     {"data":{"name":"forest"},"transform":[{"filter":"datum.lo != null"}],"mark":{"type":"rule","color":"#222222","strokeWidth":1},"encoding":{"x":{"field":"lo","type":"quantitative"},"x2":{"field":"hi"},"y":{"field":"var","type":"nominal","scale":{"type":"point","domain":["ASAH1","SYNM","GPNMB","MMP9","SexM","SexF","Age"],"padding":0.557},"axis":null}}},
     {"data":{"name":"forest"},"transform":[{"filter":"datum.lo != null"}],"mark":{"type":"tick","orient":"vertical","size":6,"thickness":1,"color":"#222222"},"encoding":{"x":{"field":"lo","type":"quantitative"},"y":{"field":"var","type":"nominal"}}},
     {"data":{"name":"forest"},"transform":[{"filter":"datum.lo != null"}],"mark":{"type":"tick","orient":"vertical","size":6,"thickness":1,"color":"#222222"},"encoding":{"x":{"field":"hi","type":"quantitative"},"y":{"field":"var","type":"nominal"}}},
     {"data":{"name":"forest"},"transform":[{"filter":"indexof(['ASAH1','SYNM','GPNMB','MMP9'], datum.var) >= 0"}],"mark":{"type":"point","shape":"M-1,-0.7L1,-0.7L1,0.7L-1,0.7Z","size":49,"filled":true,"fill":"#1d2b80","stroke":"#000000","strokeWidth":0.7,"opacity":1},"encoding":{"x":{"field":"hr","type":"quantitative"},"y":{"field":"var","type":"nominal"}}},
     {"data":{"name":"forest"},"transform":[{"filter":"datum.var === 'SexM' || datum.var === 'SexF'"}],"mark":{"type":"point","shape":"square","size":12,"filled":true,"fill":"#1d2b80","stroke":"#000000","strokeWidth":0.5,"opacity":1},"encoding":{"x":{"field":"hr","type":"quantitative"},"y":{"field":"var","type":"nominal"}}},
     {"data":{"name":"forest"},"transform":[{"filter":"datum.var === 'Age'"}],"mark":{"type":"point","shape":"M-1,-0.7L1,-0.7L1,0.7L-1,0.7Z","size":81,"filled":true,"fill":"#1d2b80","stroke":"#000000","strokeWidth":0.8,"opacity":1},"encoding":{"x":{"field":"hr","type":"quantitative"},"y":{"field":"var","type":"nominal"}}}
    ]}
  ],"spacing":0}
 ],"spacing":0}
],
"spacing":3
}
